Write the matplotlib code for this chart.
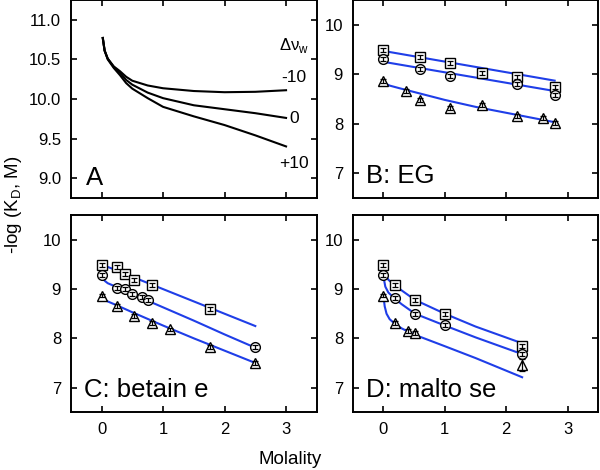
import numpy as np
import matplotlib
matplotlib.use("Agg")
import matplotlib.pyplot as plt

plt.rcParams['font.family'] = ['Liberation Sans', 'DejaVu Sans']

BLUE = '#1f3ee8'

# panel A: model curves for different delta nu_w
xa = [0.02, 0.05, 0.1, 0.2, 0.3, 0.4, 0.5, 0.75, 1.0, 1.5, 2.0, 2.5, 3.0]
a_m10 = [10.77, 10.61, 10.51, 10.41, 10.35, 10.28, 10.23, 10.17, 10.135, 10.10, 10.085, 10.09, 10.11]
a_0 = [10.77, 10.61, 10.51, 10.40, 10.33, 10.24, 10.18, 10.08, 10.01, 9.92, 9.87, 9.82, 9.76]
a_p10 = [10.77, 10.61, 10.50, 10.39, 10.30, 10.20, 10.13, 10.01, 9.90, 9.78, 9.67, 9.54, 9.40]

# panel B: EG
b_sq_x = [0, 0.6, 1.08, 1.6, 2.17, 2.79]
b_sq_y = [9.49, 9.34, 9.22, 9.02, 8.95, 8.75]
b_ci_x = [0, 0.6, 1.08, 2.17, 2.79]
b_ci_y = [9.30, 9.10, 8.97, 8.81, 8.57]
b_tr_x = [0, 0.37, 0.6, 1.09, 1.6, 2.17, 2.6, 2.79]
b_tr_y = [8.86, 8.66, 8.48, 8.31, 8.37, 8.16, 8.12, 8.02]
b_fit_sq = ([0, 2.79], [9.47, 8.87])
b_fit_ci = ([0, 2.79], [9.25, 8.66])
b_fit_tr = ([0, 0.05, 0.1, 0.25, 0.5, 1.0, 1.5, 2.0, 2.5, 2.79],
            [8.84, 8.80, 8.77, 8.72, 8.64, 8.48, 8.34, 8.22, 8.10, 8.03])

# panel C: betaine
c_sq_x = [0, 0.245, 0.38, 0.52, 0.82, 1.76]
c_sq_y = [9.49, 9.44, 9.31, 9.18, 9.08, 8.60]
c_ci_x = [0, 0.245, 0.385, 0.49, 0.66, 0.75, 2.49]
c_ci_y = [9.29, 9.03, 9.01, 8.90, 8.84, 8.77, 7.82]
c_tr_x = [0, 0.245, 0.52, 0.82, 1.11, 1.76, 2.49]
c_tr_y = [8.87, 8.66, 8.45, 8.31, 8.18, 7.83, 7.49]
c_fit_sq = ([0, 0.1, 0.25, 0.5, 1.0, 1.5, 2.0, 2.5],
            [9.50, 9.45, 9.38, 9.25, 9.00, 8.75, 8.50, 8.25])
c_fit_ci = ([0, 0.05, 0.1, 0.25, 0.5, 1.0, 1.5, 2.0, 2.5],
            [9.25, 9.17, 9.12, 9.04, 8.90, 8.63, 8.36, 8.08, 7.81])
c_fit_tr = ([0, 0.1, 0.25, 0.5, 1.0, 1.5, 2.0, 2.5],
            [8.81, 8.75, 8.67, 8.53, 8.26, 8.00, 7.75, 7.50])

# panel D: maltose
d_sq_x = [0, 0.19, 0.515, 1.0, 2.26]
d_sq_y = [9.49, 9.08, 8.77, 8.49, 7.85]
d_ci_x = [0, 0.19, 0.515, 1.0, 2.26]
d_ci_y = [9.29, 8.81, 8.49, 8.27, 7.68]
d_tr_x = [0, 0.19, 0.4, 0.515, 2.26]
d_tr_y = [8.87, 8.32, 8.15, 8.10, 7.46]
d_fit_sq = ([0, 0.03, 0.08, 0.19, 0.3, 0.515, 1.0, 1.5, 2.26],
            [9.45, 9.30, 9.19, 9.07, 8.97, 8.78, 8.50, 8.24, 7.90])
d_fit_ci = ([0, 0.03, 0.08, 0.19, 0.3, 0.515, 1.0, 1.5, 2.26],
            [9.25, 9.05, 8.93, 8.80, 8.69, 8.50, 8.26, 8.02, 7.68])
d_fit_tr = ([0, 0.02, 0.05, 0.1, 0.19, 0.3, 0.515, 1.0, 1.5, 2.26],
            [8.85, 8.65, 8.50, 8.39, 8.29, 8.20, 8.07, 7.84, 7.60, 7.21])

err = 0.04

fig = plt.figure(figsize=(6, 4.7), dpi=100)
axA = fig.add_axes([0.118, 0.579, 0.41, 0.421])
axB = fig.add_axes([0.588, 0.579, 0.409, 0.421])
axC = fig.add_axes([0.118, 0.123, 0.41, 0.419])
axD = fig.add_axes([0.588, 0.123, 0.409, 0.419])


def style(ax):
    ax.set_xlim(-0.5, 3.5)
    ax.set_xticks([0, 1, 2, 3])
    ax.tick_params(direction='in', top=True, right=True, length=4.5, width=1.2,
                   labelsize=12, pad=7)
    for s in ax.spines.values():
        s.set_linewidth(1.4)


def points(ax, x, y, marker, yerr=err):
    ax.plot(x, y, marker, ls='none', ms=7, mfc='white', mec='black', mew=1.0, zorder=3)
    ax.errorbar(x, y, yerr=yerr, fmt='none', ecolor='black', elinewidth=0.9,
                capsize=2, capthick=0.9, zorder=4)


# A
style(axA)
axA.plot(xa, a_m10, color='black', lw=1.5)
axA.plot(xa, a_0, color='black', lw=1.5)
axA.plot(xa, a_p10, color='black', lw=1.5)
axA.set_ylim(8.75, 11.25)
axA.set_yticks([9.0, 9.5, 10.0, 10.5, 11.0])
axA.set_yticklabels(['9.0', '9.5', '10.0', '10.5', '11.0'])
axA.set_xticklabels([])
axA.text(3.13, 10.68, r'Δν$_\mathregular{w}$', ha='center', va='center', fontsize=12)
axA.text(3.13, 10.27, '-10', ha='center', va='center', fontsize=12.5)
axA.text(3.13, 9.75, '0', ha='center', va='center', fontsize=12.5)
axA.text(3.13, 9.19, '+10', ha='center', va='center', fontsize=12.5)
axA.text(0.06, 0.066, 'A', transform=axA.transAxes, fontsize=18.5, va='baseline')

# B, C, D
panels = [
    (axB, 'B: EG', b_sq_x, b_sq_y, b_ci_x, b_ci_y, b_tr_x, b_tr_y, b_fit_sq, b_fit_ci, b_fit_tr),
    (axC, 'C: betain e', c_sq_x, c_sq_y, c_ci_x, c_ci_y, c_tr_x, c_tr_y, c_fit_sq, c_fit_ci, c_fit_tr),
    (axD, 'D: malto se', d_sq_x, d_sq_y, d_ci_x, d_ci_y, d_tr_x, d_tr_y, d_fit_sq, d_fit_ci, d_fit_tr),
]
for ax, lab, sx, sy, cx, cy, tx, ty, fs, fc, ft in panels:
    style(ax)
    for f in (fs, fc, ft):
        ax.plot(f[0], f[1], color=BLUE, lw=1.5, zorder=2)
    points(ax, sx, sy, 's')
    points(ax, cx, cy, 'o')
    tr_err = [err] * len(tx)
    if ax is axD:
        tr_err[-1] = 0.12
    points(ax, tx, ty, '^', tr_err)
    ax.set_ylim(6.5, 10.5)
    ax.set_yticks([7, 8, 9, 10])
    ax.text(0.055, 0.077, lab, transform=ax.transAxes, fontsize=18.5, va='baseline')

axB.set_xticklabels([])

fig.text(0.483, 0.023, 'Molality', ha='center', va='center', fontsize=13.5)
fig.text(0.022, 0.565, r'-log (K$_\mathregular{D}$, M)', rotation=90, ha='center',
         va='center', fontsize=13.5)

fig.savefig('out.png', dpi=100)
